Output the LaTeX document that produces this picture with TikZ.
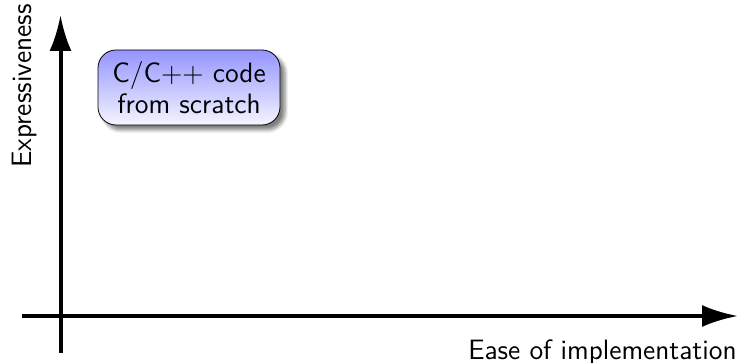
\documentclass[tikz,border=0pt]{standalone}
\usetikzlibrary{arrows.meta,shadows.blur}

\begin{document}
\begin{tikzpicture}[x=0.5pt, y=-0.5pt, font=\sffamily\fontsize{14}{15.5}\selectfont,
	axis/.style={line width=2pt, -{Latex[length=18pt,width=11pt]}},
	approach/.style={draw, rounded corners=9pt, align=center,
		top color=blue!42, bottom color=blue!4,
		blur shadow={shadow xshift=2.5pt, shadow yshift=-2.5pt, shadow blur steps=6, shadow opacity=50},
		minimum width=91pt, minimum height=37.5pt, inner sep=2pt}]
	\useasboundingbox (0,0) rectangle (740,363);
	% axes
	\coordinate (xstart) at (22,316);
	\coordinate (xend) at (738,316);
	\coordinate (ystart) at (60.5,353);
	\coordinate (yend) at (60.5,15);
	\draw[axis] (xstart) -- (xend);
	\draw[axis] (ystart) -- (yend);
	\node[rotate=90, anchor=base, inner sep=0pt] (ylabel) at (32,86) {Expressiveness};
	\node[anchor=base east, inner sep=0pt] (xlabel) at (737,360) {Ease of implementation};
	% approaches
	\node[approach] (scratch) at (189,87.5) {C/C++ code\\from scratch};
\end{tikzpicture}
\end{document}
